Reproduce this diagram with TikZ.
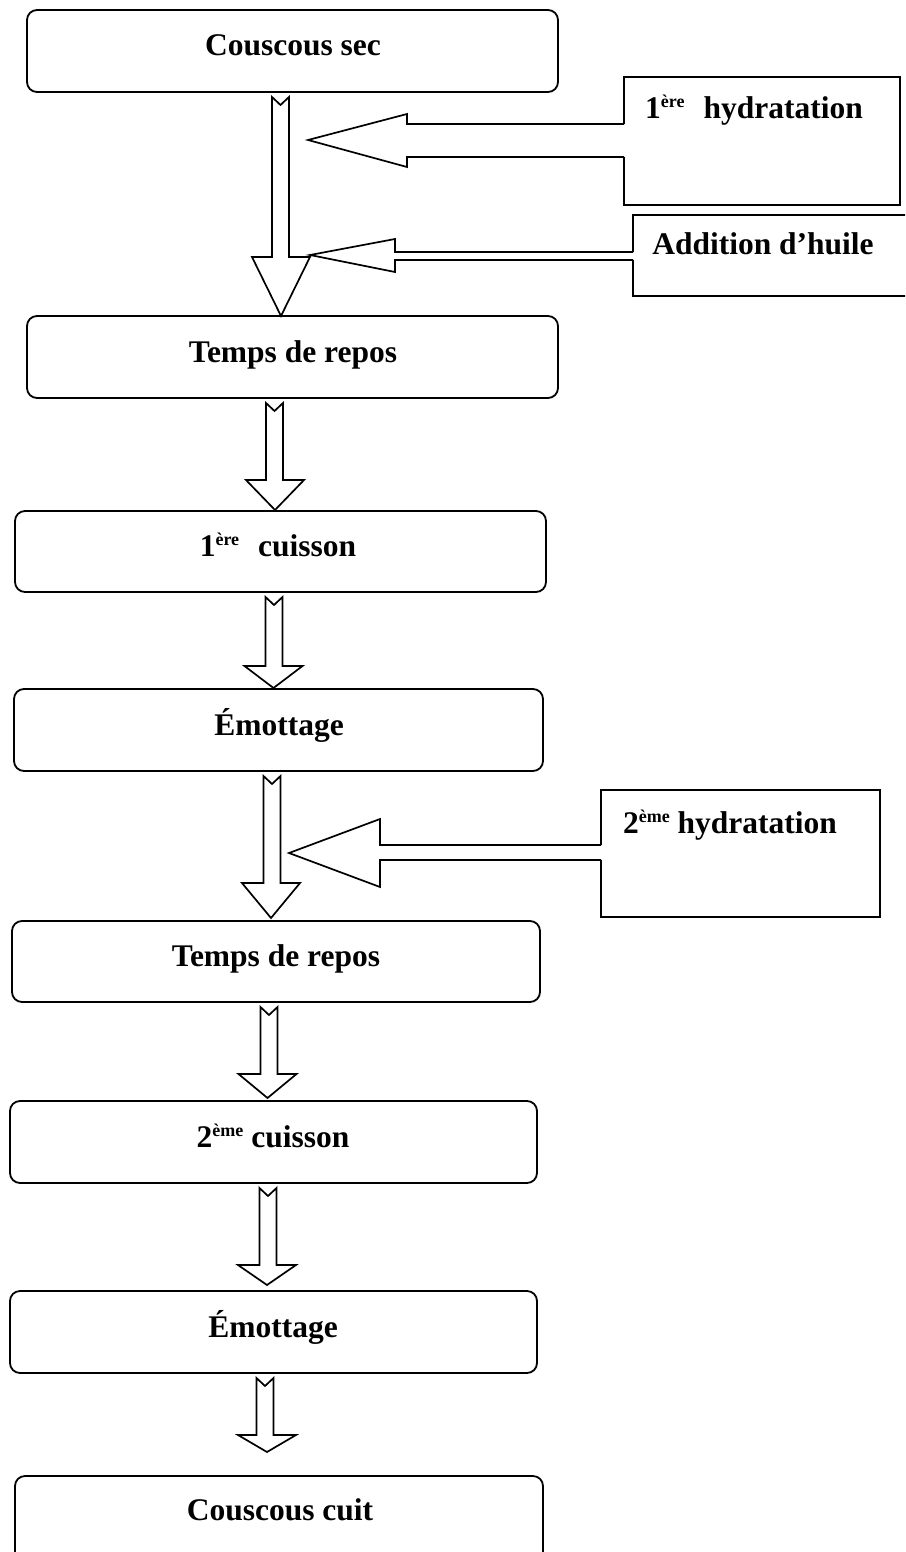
\documentclass[tikz,border=0pt]{standalone}
\usepackage{fontspec}
\setmainfont{Liberation Serif}
\usetikzlibrary{calc}
\newcommand\supx[1]{\raisebox{11pt}{\fontsize{18}{19}\selectfont #1}}
% vertical block arrow: #1 shaft centre x, #2 tip x, #3 from node, #4 to node, #5 head length, #6 gap above target
\newcommand\vblk[6]{%
  \draw[blk] let \p1=(#3.south), \p2=(#4.north) in
    ({#1-8.5}, {\y1-5pt}) -- ({#1-8.5}, {\y2+#6pt+#5pt}) -- ({#2-29}, {\y2+#6pt+#5pt})
    -- (#2, {\y2+#6pt}) -- ({#2+29}, {\y2+#6pt+#5pt}) -- ({#1+8.5}, {\y2+#6pt+#5pt})
    -- ({#1+8.5}, {\y1-5pt}) -- (#1, {\y1-13pt}) -- cycle;}
\begin{document}
\begin{tikzpicture}[x=1pt,y=1pt,
  proc/.style={draw, line width=1.8pt, rounded corners=10pt, inner sep=0pt, outer sep=0pt},
  sidebox/.style={draw=none, inner sep=0pt, outer sep=0pt},
  sideline/.style={draw, line width=1.8pt, line join=miter},
  lbl/.style={font=\fontsize{31.5}{36}\selectfont\bfseries, anchor=base, inner sep=0pt},
  blk/.style={draw, line width=1.7pt, fill=white, line join=miter}]
\useasboundingbox (0,0) rectangle (905,-1552);
\fill[white] (0,0) rectangle (905,-1552);
\begin{scope}
\clip (0,0) rectangle (905,-1552);
% main process boxes
\node[proc, minimum width=531pt, minimum height=82pt] (b1) at (292.5,-51) {};
\node[proc, minimum width=531pt, minimum height=82pt] (b2) at (292.5,-357) {};
\node[proc, minimum width=531pt, minimum height=81pt] (b3) at (280.5,-551.5) {};
\node[proc, minimum width=529pt, minimum height=82pt] (b4) at (278.5,-730) {};
\node[proc, minimum width=528pt, minimum height=81pt] (b5) at (276,-961.5) {};
\node[proc, minimum width=527pt, minimum height=82pt] (b6) at (273.5,-1142) {};
\node[proc, minimum width=527pt, minimum height=82pt] (b7) at (273.5,-1332) {};
\node[proc, minimum width=528pt, minimum height=94pt] (b8) at (279,-1523) {};
% labels
\node[lbl] (t1) at (293,-56) {Couscous sec};
\node[lbl] (t2) at (293,-362) {Temps de repos};
\node[lbl] (t3) at (278,-556) {1\supx{ère}\hspace{0.6em}cuisson};
\node[lbl] (t4) at (279,-735) {Émottage};
\node[lbl] (t5) at (276,-966) {Temps de repos};
\node[lbl] (t6) at (273,-1147) {2\supx{ème} cuisson};
\node[lbl] (t7) at (273,-1337) {Émottage};
\node[lbl] (t8) at (280,-1520) {Couscous cuit};
% side boxes
\node[sidebox, minimum width=276pt, minimum height=128pt] (h1) at (762,-141) {};
\node[sidebox, minimum width=282pt, minimum height=81pt] (h2) at (774,-255.5) {};
\node[sidebox, minimum width=279pt, minimum height=127pt] (h3) at (740.5,-853.5) {};
\draw[sideline] (h1.west |- 0,-124) -- (h1.north west) -- (h1.north east) -- (h1.south east) -- (h1.south west) -- (h1.west |- 0,-157);
\draw[sideline] (h2.west |- 0,-252) -- (h2.north west) -- (h2.north east) -- (h2.south east) -- (h2.south west) -- (h2.west |- 0,-260);
\draw[sideline] (h3.west |- 0,-845) -- (h3.north west) -- (h3.north east) -- (h3.south east) -- (h3.south west) -- (h3.west |- 0,-860);
\node[lbl] (s1) at (754,-119) {1\supx{ère}\hspace{0.6em}hydratation};
\node[lbl] (s2) at (763,-254) {Addition d’huile};
\node[lbl] (s3) at (730,-833) {2\supx{ème} hydratation};
% vertical block arrows
\vblk{280.5}{281}{b1}{b2}{59}{0}
\vblk{274.5}{275}{b2}{b3}{30}{1}
\vblk{274}{273.5}{b3}{b4}{22}{1}
\vblk{272}{271}{b4}{b5}{35}{3}
\vblk{269}{267.5}{b5}{b6}{24}{3}
\vblk{268}{267}{b6}{b7}{20}{6}
\vblk{265}{267}{b7}{b8}{17}{24}
% horizontal block arrows (tips are free ends)
\coordinate (p1) at (308,-140);
\coordinate (p2) at (310,-255);
\coordinate (p3) at (289,-853);
\draw[blk] (h1.west |- 0,-124) -- (407,-124) -- (407,-114) -- (p1) -- (407,-167) -- (407,-157) -- (h1.west |- 0,-157);
\draw[blk] (h2.west |- 0,-252) -- (395,-252) -- (395,-239) -- (p2) -- (395,-272) -- (395,-260) -- (h2.west |- 0,-260);
\draw[blk] (h3.west |- 0,-845) -- (380,-845) -- (380,-819) -- (p3) -- (380,-887) -- (380,-860) -- (h3.west |- 0,-860);
\end{scope}
\end{tikzpicture}
\end{document}
